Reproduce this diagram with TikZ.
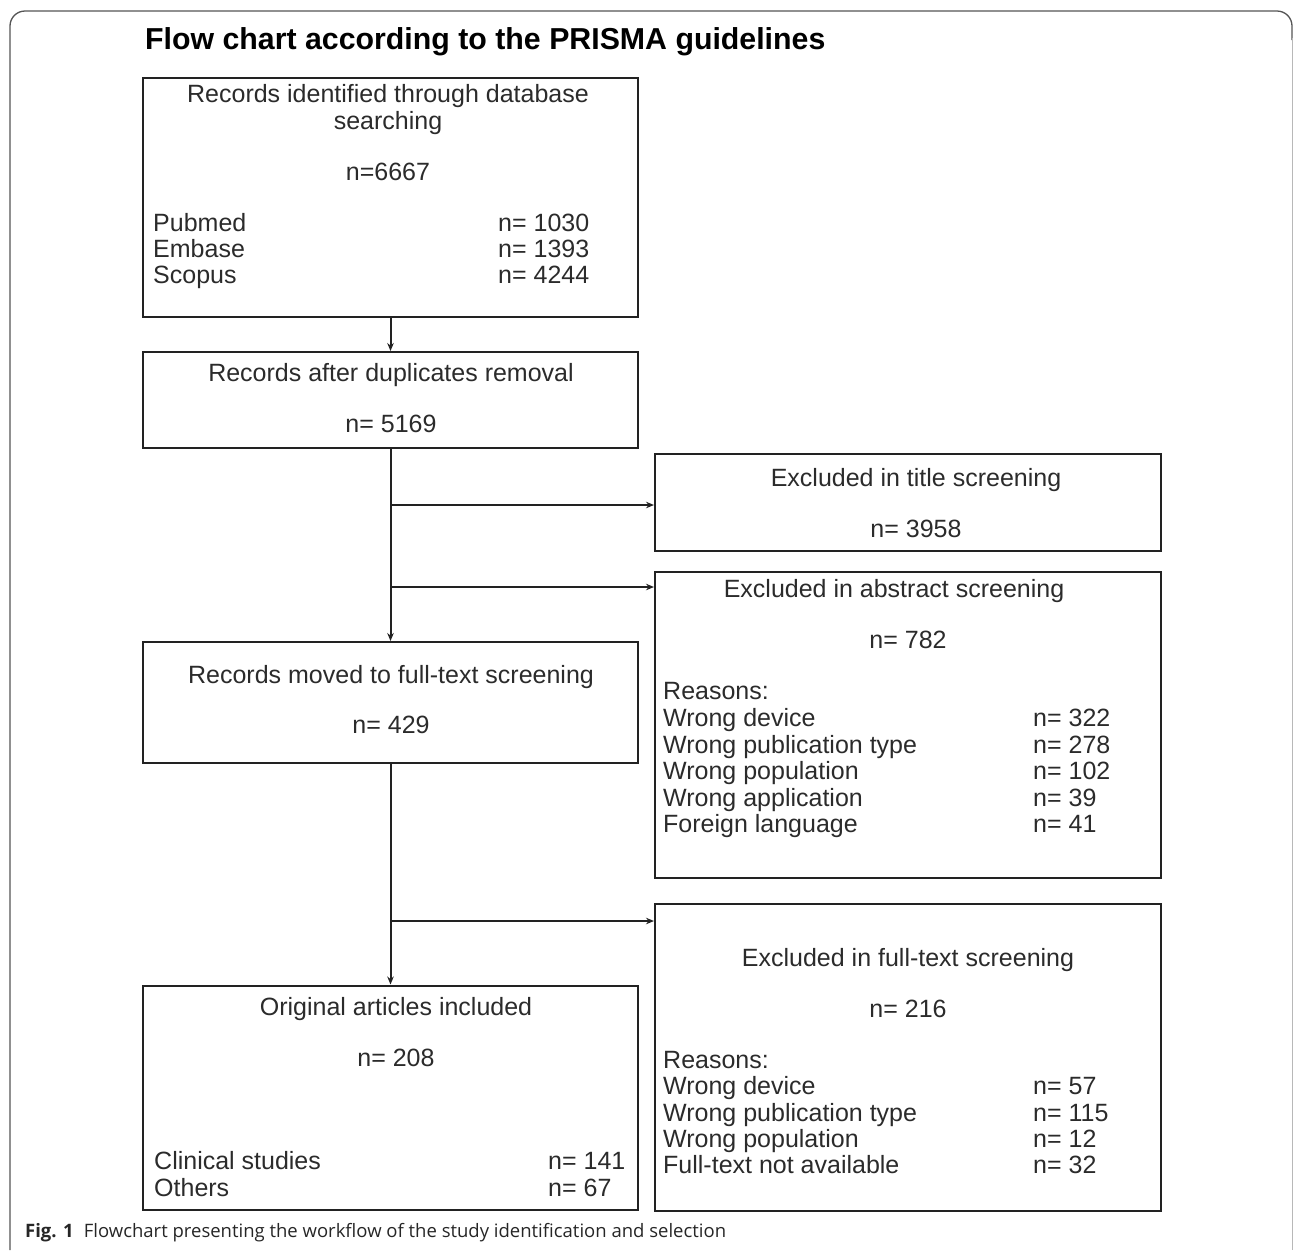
\documentclass[tikz,border=0pt]{standalone}
\usepackage{fontspec}
\setmainfont{Liberation Sans}
\newfontfamily\capfont{Open Sans}
\usetikzlibrary{arrows.meta}
\definecolor{txt}{HTML}{2B2B2B}
\definecolor{ln}{HTML}{222222}
\definecolor{frm}{HTML}{555555}
\definecolor{frmlight}{HTML}{B8B8B8}
\tikzset{
  box/.style={draw=ln, line width=2pt, inner sep=0pt},
  leftbox/.style={box, minimum width=495pt},
  rightbox/.style={box, minimum width=506pt},
  tx/.style={inner sep=0pt, text=txt, font=\fontsize{25}{28}\selectfont},
  ctx/.style={tx, anchor=base},
  ltx/.style={tx, anchor=base west},
  conn/.style={draw=ln, line width=2pt},
  arr/.style={conn, -{Stealth[length=8pt,width=6.5pt]}},
}
\begin{document}
\begin{tikzpicture}[x=1pt,y=-1pt]
\useasboundingbox (0,0) rectangle (1295,1251);
% frame
\draw[frm, line width=1.3pt, rounded corners=15pt] (10,1250) -- (10,11) -- (1292,11) -- (1292,40);
\draw[frmlight, line width=1pt] (1292,38) -- (1292,1250);
% title
\node[inner sep=0pt, anchor=base west, font=\bfseries\fontsize{30.3}{34}\selectfont] (title) at (145,49) {Flow chart according to the PRISMA guidelines};
% left boxes
\node[leftbox, minimum height=239pt] (b1) at (390.5,197.5) {};
\node[leftbox, minimum height=96pt] (b2) at (390.5,400) {};
\node[leftbox, minimum height=121pt] (b3) at (390.5,702.5) {};
\node[leftbox, minimum height=224pt] (b4) at (390.5,1097.5) {};
% right boxes
\node[rightbox, minimum height=97pt] (r1) at (908,502.5) {};
\node[rightbox, minimum height=306pt] (r2) at (908,725) {};
\node[rightbox, minimum height=307pt] (r3) at (908,1057.5) {};
% box 1 text
\node[ctx] (b1a) at (388,102) {Records identified through database};
\node[ctx] (b1b) at (388,129) {searching};
\node[ctx] (b1c) at (388,180) {n=6667};
\node[ltx] (b1d) at (153,231) {Pubmed};
\node[ltx] (b1e) at (153,257) {Embase};
\node[ltx] (b1f) at (153,283) {Scopus};
\node[ltx] (b1g) at (498,231) {n= 1030};
\node[ltx] (b1h) at (498,257) {n= 1393};
\node[ltx] (b1i) at (498,283) {n= 4244};
% box 2 text
\node[ctx] (b2a) at (391,381) {Records after duplicates removal};
\node[ctx] (b2b) at (391,432) {n= 5169};
% box 3 text
\node[ctx] (b3a) at (391,683) {Records moved to full-text screening};
\node[ctx] (b3b) at (391,733) {n= 429};
% box 4 text
\node[ctx] (b4a) at (396,1015) {Original articles included};
\node[ctx] (b4b) at (396,1066) {n= 208};
\node[ltx] (b4c) at (154,1169) {Clinical studies};
\node[ltx] (b4d) at (154,1196) {Others};
\node[ltx] (b4e) at (548,1169) {n= 141};
\node[ltx] (b4f) at (548,1196) {n= 67};
% r1 text
\node[ctx] (r1a) at (916,486) {Excluded in title screening};
\node[ctx] (r1b) at (916,537) {n= 3958};
% r2 text
\node[ctx] (r2a) at (894,597) {Excluded in abstract screening};
\node[ctx] (r2b) at (908,648) {n= 782};
\node[ltx] (r2c) at (663,699) {Reasons:};
\node[ltx] (r2d) at (663,726) {Wrong device};
\node[ltx] (r2e) at (663,753) {Wrong publication type};
\node[ltx] (r2f) at (663,779) {Wrong population};
\node[ltx] (r2g) at (663,806) {Wrong application};
\node[ltx] (r2h) at (663,832) {Foreign language};
\node[ltx] (r2i) at (1033,726) {n= 322};
\node[ltx] (r2j) at (1033,753) {n= 278};
\node[ltx] (r2k) at (1033,779) {n= 102};
\node[ltx] (r2l) at (1033,806) {n= 39};
\node[ltx] (r2m) at (1033,832) {n= 41};
% r3 text
\node[ctx] (r3a) at (908,966) {Excluded in full-text screening};
\node[ctx] (r3b) at (908,1017) {n= 216};
\node[ltx] (r3c) at (663,1068) {Reasons:};
\node[ltx] (r3d) at (663,1094) {Wrong device};
\node[ltx] (r3e) at (663,1121) {Wrong publication type};
\node[ltx] (r3f) at (663,1147) {Wrong population};
\node[ltx] (r3g) at (663,1173) {Full-text not available};
\node[ltx] (r3h) at (1033,1094) {n= 57};
\node[ltx] (r3i) at (1033,1121) {n= 115};
\node[ltx] (r3j) at (1033,1147) {n= 12};
\node[ltx] (r3k) at (1033,1173) {n= 32};
% connectors
\coordinate (j1) at (391,505);
\coordinate (j2) at (391,587);
\coordinate (j3) at (391,921);
\draw[arr] (b1.south) -- (b2.north);
\draw[arr] (b2.south) -- (b3.north);
\draw[arr] (b3.south) -- (b4.north);
\draw[arr] (j1) -- (j1 -| r1.west);
\draw[arr] (j2) -- (j2 -| r2.west);
\draw[arr] (j3) -- (j3 -| r3.west);
% caption
\node[inner sep=0pt, anchor=base west, font=\capfont\fontsize{18.5}{22}\selectfont, text=black!85] (cap) at (25,1237) {\textbf{Fig. 1}\hspace{0.55em}Flowchart presenting the workflow of the study identification and selection};
\end{tikzpicture}
\end{document}
